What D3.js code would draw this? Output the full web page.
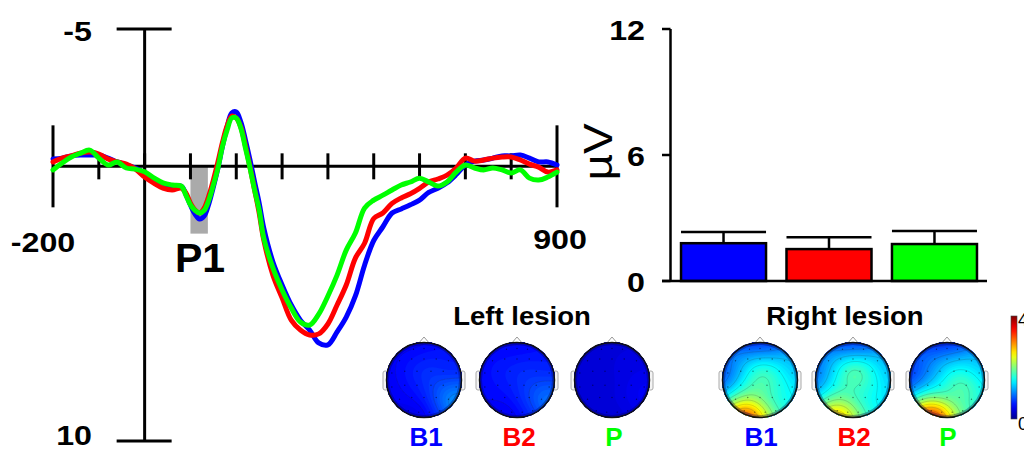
<!DOCTYPE html>
<html>
<head>
<meta charset="utf-8">
<script src="https://cdn.jsdelivr.net/npm/d3@7"></script>
<style>
  body { margin: 0; background: #fff; }
  svg { display: block; }
  text { font-family: "Liberation Sans", Arial, Helvetica, sans-serif; }
</style>
</head>
<body>
<svg id="fig" width="1024" height="452"></svg>
<script>
// ---- ERP waveforms (µV, negative plotted upward) ----
const times = [-200,-180,-160,-140,-120,-100,-80,-60,-40,-20,0,20,40,60,80,
  90,100,110,120,130,140,150,160,170,180,190,200,210,220,230,240,250,260,
  280,300,320,340,360,380,400,420,440,460,480,500,520,540,560,580,600,620,640,660,
  680,700,720,740,760,780,800,820,840,860,880,900];

const waveB1 = [-0.27,-0.30,-0.38,-0.41,-0.41,-0.41,-0.30,-0.16,-0.05,0.06,0.24,0.50,0.64,0.72,0.72,
  1.01,1.41,1.74,1.92,1.81,1.37,0.75,0.06,-0.74,-1.43,-1.94,-1.98,-1.61,-0.96,-0.23,0.57,1.34,2.25,
  3.48,4.32,5.05,5.60,5.96,6.43,6.50,6.03,5.49,4.72,3.60,2.70,2.20,1.70,1.55,1.40,1.23,0.95,0.80,0.60,
  0.30,-0.05,-0.19,-0.23,-0.30,-0.38,-0.38,-0.41,-0.30,-0.16,-0.16,-0.05];

const waveB2 = [-0.16,-0.30,-0.38,-0.48,-0.52,-0.45,-0.27,-0.16,-0.08,0.10,0.39,0.61,0.79,0.86,0.79,
  0.97,1.34,1.59,1.70,1.52,1.08,0.50,-0.16,-0.88,-1.47,-1.83,-1.76,-1.43,-0.74,0.03,0.86,1.70,2.68,
  3.96,4.79,5.60,5.96,6.14,6.10,5.74,5.05,4.32,3.34,2.80,1.90,1.70,1.35,1.15,1.00,0.80,0.57,0.46,0.32,
  0.06,-0.30,-0.19,-0.23,-0.30,-0.34,-0.34,-0.23,-0.08,0.03,0.21,0.13];

const waveP = [0.13,-0.12,-0.34,-0.48,-0.59,-0.30,-0.05,-0.16,0.06,0.10,0.20,0.42,0.60,0.68,0.72,
  1.05,1.40,1.60,1.70,1.60,1.23,0.68,0.06,-0.74,-1.32,-1.76,-1.76,-1.39,-0.67,0.06,0.86,1.59,2.61,
  3.70,4.50,5.16,5.67,5.78,5.38,4.72,3.96,3.05,2.43,1.52,1.23,1.05,0.86,0.68,0.57,0.43,0.57,0.72,0.57,
  0.21,-0.05,0.06,0.13,0.06,0.13,0.24,0.13,0.43,0.50,0.39,0.21];

const conditions = ["B1", "B2", "P"];
const condColors = ["#0000ff", "#ff0000", "#00ff00"];

// ERP axis labels and P1 window
const erpYLabels = [-5, 10];
const erpXLabels = [-200, 900];
const erpXTicks = [-100, 0, 100, 200, 300, 400, 500, 600, 700, 800];
const p1Window = [100, 138];
const p1Depth = 2.45;

// ---- P1 amplitude bars ----
const barMeans = [1.80, 1.52, 1.76];
const barErrors = [0.53, 0.56, 0.62];
const barTicks = [0, 6, 12];

// ---- Scalp maps: electrode layout (unit head) and amplitudes (µV) ----
const electrodes = [
  [-0.3,-0.88],[0,-0.9],[0.3,-0.88],
  [-0.7,-0.55],[-0.35,-0.6],[0,-0.6],[0.35,-0.6],[0.7,-0.55],
  [-0.92,-0.2],[-0.55,-0.25],[-0.2,-0.25],[0.2,-0.25],[0.55,-0.25],[0.92,-0.2],
  [-0.92,0.2],[-0.55,0.15],[-0.2,0.15],[0.2,0.15],[0.55,0.15],[0.92,0.2],
  [-0.7,0.55],[-0.35,0.5],[0,0.5],[0.35,0.5],[0.7,0.55],
  [-0.45,0.88],[-0.15,0.92],[0.15,0.92],[0.45,0.88]
];
const topoLeftB1 = [0.4,0.45,0.45, 0.45,0.55,0.65,0.65,0.55, 0.45,0.55,0.7,0.7,0.6,0.6,
  0.45,0.5,0.6,0.75,0.85,0.95, 0.45,0.5,0.55,0.85,1.35, 0.35,0.35,0.45,0.8];
const topoLeftB2 = [0.45,0.45,0.45, 0.5,0.55,0.6,0.6,0.55, 0.5,0.6,0.65,0.7,0.65,0.6,
  0.5,0.55,0.6,0.7,0.8,0.85, 0.5,0.5,0.6,0.8,1.15, 0.4,0.4,0.5,0.7];
const topoLeftP = [0.3,0.35,0.3, 0.3,0.3,0.35,0.4,0.35, 0.3,0.3,0.35,0.35,0.4,0.4,
  0.3,0.3,0.3,0.35,0.45,0.5, 0.3,0.3,0.35,0.4,0.5, 0.3,0.3,0.3,0.35];
const topoRightB1 = [0.4,0.45,0.4, 0.9,1.3,1.6,1.4,1.1, 0.7,1.1,1.8,1.9,1.5,1.2,
  0.8,1.3,1.9,1.9,1.6,1.4, 2.0,2.1,1.8,1.6,1.5, 3.9,3.4,2.4,1.6];
const topoRightB2 = [0.4,0.45,0.4, 0.9,1.4,1.8,1.5,1.1, 0.8,1.3,2.0,2.1,1.5,1.2,
  0.9,1.4,1.8,1.8,1.6,1.3, 1.9,1.9,1.6,1.5,1.4, 3.3,2.8,2.0,1.5];
const topoRightP = [0.4,0.45,0.4, 0.8,1.1,1.4,1.4,1.1, 0.6,0.9,1.3,1.6,1.6,1.2,
  0.7,1.1,1.5,1.9,2.0,1.4, 2.2,1.9,1.6,1.9,1.6, 4.2,3.6,2.3,1.6];
const colorbarRange = [0, 4];

// ---------------------------------------------------------------
const svg = d3.select("#fig");
const FONT_STRETCH = 1.15;

function label(g, x, y, str, opt) {
  const o = Object.assign({ size: 28, weight: "bold", anchor: "middle", sx: 1, fill: "#000" }, opt);
  return g.append("text")
    .attr("transform", `translate(${x},${y}) scale(${o.sx},1)`)
    .attr("text-anchor", o.anchor)
    .attr("font-size", o.size)
    .attr("font-weight", o.weight)
    .attr("fill", o.fill)
    .text(str);
}

// ===== ERP panel =====
const x = d3.scaleLinear().domain([-200, 900]).range([53, 557]);
const y = d3.scaleLinear().domain([-5, 10]).range([29, 441]);
const erp = svg.append("g");

erp.append("rect")
  .attr("x", x(p1Window[0])).attr("y", y(0))
  .attr("width", x(p1Window[1]) - x(p1Window[0]))
  .attr("height", y(p1Depth) - y(0))
  .attr("fill", "#aaaaaa");

const axisStyle = s => s.attr("stroke", "#000").attr("stroke-width", 3).attr("fill", "none");

// time axis at 0 µV
erp.append("line").call(axisStyle)
  .attr("x1", x(-200)).attr("x2", x(900)).attr("y1", y(0)).attr("y2", y(0));
erp.selectAll(".xt").data(erpXTicks).join("line").call(axisStyle)
  .attr("x1", d => x(d)).attr("x2", d => x(d))
  .attr("y1", y(0) - 13).attr("y2", y(0) + 13);
erp.selectAll(".xe").data(erpXLabels).join("line").call(axisStyle)
  .attr("x1", d => x(d)).attr("x2", d => x(d))
  .attr("y1", y(0) - 41).attr("y2", y(0) + 41);

// amplitude axis at 0 ms
erp.append("line").call(axisStyle)
  .attr("x1", x(0)).attr("x2", x(0)).attr("y1", y(-5)).attr("y2", y(10));
erp.selectAll(".yc").data(erpYLabels).join("line").call(axisStyle)
  .attr("x1", x(0) - 28).attr("x2", x(0) + 27)
  .attr("y1", d => y(d)).attr("y2", d => y(d));

erpYLabels.forEach(v => label(erp, 92, v < 0 ? y(v) + 12 : 445, String(v), { anchor: "end", sx: FONT_STRETCH }));
label(erp, 43, 252, String(erpXLabels[0]), { sx: FONT_STRETCH });
label(erp, 560, 249, String(erpXLabels[1]), { sx: FONT_STRETCH });
label(erp, 175, 272, "P1", { size: 41, anchor: "start" });

const waves = [waveB1, waveB2, waveP];
const line = d3.line()
  .x((d, i) => x(times[i]))
  .y(d => y(d))
  .curve(d3.curveCatmullRom.alpha(0.5));
waves.forEach((w, k) => {
  erp.append("path").datum(w)
    .attr("d", line)
    .attr("fill", "none")
    .attr("stroke", condColors[k])
    .attr("stroke-width", 5)
    .attr("stroke-linejoin", "round")
    .attr("stroke-linecap", "round");
});

// ===== Bar panel =====
const bx = d3.scaleBand().domain(conditions).range([671, 987]).paddingInner(0.194).paddingOuter(0.095);
const by = d3.scaleLinear().domain([0, 12]).range([281, 29]);
const bars = svg.append("g");
const barLine = s => s.attr("stroke", "#000").attr("stroke-width", 2.5);

bars.selectAll(".bar").data(conditions).join("rect")
  .attr("x", d => bx(d)).attr("width", bx.bandwidth())
  .attr("y", (d, i) => by(barMeans[i]))
  .attr("height", (d, i) => by(0) - by(barMeans[i]))
  .attr("fill", (d, i) => condColors[i])
  .call(barLine);

bars.selectAll(".err").data(conditions).join("line").call(barLine)
  .attr("x1", d => bx(d) + bx.bandwidth() / 2).attr("x2", d => bx(d) + bx.bandwidth() / 2)
  .attr("y1", (d, i) => by(barMeans[i])).attr("y2", (d, i) => by(barMeans[i] + barErrors[i]));
bars.selectAll(".cap").data(conditions).join("line").call(barLine)
  .attr("x1", d => bx(d)).attr("x2", d => bx(d) + bx.bandwidth())
  .attr("y1", (d, i) => by(barMeans[i] + barErrors[i])).attr("y2", (d, i) => by(barMeans[i] + barErrors[i]));

bars.append("line").call(barLine)
  .attr("x1", 670.5).attr("x2", 670.5).attr("y1", by(12)).attr("y2", by(0));
bars.append("line").call(barLine)
  .attr("x1", 662).attr("x2", 987).attr("y1", by(0)).attr("y2", by(0));
bars.selectAll(".bt").data(barTicks).join("line").call(barLine)
  .attr("x1", 662).attr("x2", 670.5).attr("y1", d => by(d)).attr("y2", d => by(d));
barTicks.forEach(v => label(bars, 645, by(v) + 11, String(v), { anchor: "end", sx: FONT_STRETCH }));

bars.append("text")
  .attr("transform", "translate(612,152) rotate(-90) scale(1.15,1)")
  .attr("text-anchor", "middle")
  .attr("font-size", 40)
  .text("µV");

// ===== Scalp maps =====
const jet = d3.scaleLinear()
  .domain([0, 0.5, 1.5, 2.5, 3.5, 4])
  .range(["#00008f", "#0000ff", "#00ffff", "#ffff00", "#ff0000", "#800000"])
  .clamp(true);

// smooth kernel interpolation of electrode values onto an N×N grid
const N = 64;
const SIGMA = 0.28;
function gridValues(vals) {
  const out = new Array(N * N);
  for (let j = 0; j < N; j++) {
    for (let i = 0; i < N; i++) {
      const u = (i + 0.5) / N * 2 - 1, v = (j + 0.5) / N * 2 - 1;
      let sw = 0, s = 0;
      for (let k = 0; k < electrodes.length; k++) {
        const dx = u - electrodes[k][0], dy = v - electrodes[k][1];
        const w = Math.exp(-(dx * dx + dy * dy) / (2 * SIGMA * SIGMA));
        sw += w; s += w * vals[k];
      }
      out[j * N + i] = s / sw;
    }
  }
  return out;
}

let clipId = 0;
function drawTopo(cx, cy, R, vals) {
  const g = svg.append("g");
  const id = "head" + (clipId++);
  g.append("clipPath").attr("id", id)
    .append("circle").attr("cx", cx).attr("cy", cy).attr("r", R);

  // nose and ears
  g.append("path")
    .attr("d", `M${cx - 6},${cy - R + 2}L${cx},${cy - R - 5}L${cx + 6},${cy - R + 2}`)
    .attr("fill", "#fff").attr("stroke", "#999").attr("stroke-width", 1);
  [-1, 1].forEach(s => {
    g.append("rect")
      .attr("x", s < 0 ? cx - R - 3 : cx + R - 2).attr("y", cy - 9)
      .attr("width", 5).attr("height", 19).attr("rx", 2)
      .attr("fill", "#f4f4f4").attr("stroke", "#aaa").attr("stroke-width", 1);
  });

  const grid = gridValues(vals);
  const proj = d3.geoTransform({
    point(px, py) { this.stream.point(cx + (px / N * 2 - 1) * R, cy + (py / N * 2 - 1) * R); }
  });
  const path = d3.geoPath(proj);
  const inner = g.append("g").attr("clip-path", `url(#${id})`);
  inner.append("circle").attr("cx", cx).attr("cy", cy).attr("r", R).attr("fill", jet(0));

  const fillLevels = d3.range(0, 4.0001, 0.05);
  inner.selectAll(".band")
    .data(d3.contours().size([N, N]).thresholds(fillLevels)(grid))
    .join("path")
    .attr("d", path)
    .attr("fill", d => jet(d.value + 0.025));

  inner.selectAll(".iso")
    .data(d3.contours().size([N, N]).thresholds(d3.range(0.25, 4, 0.25))(grid))
    .join("path")
    .attr("d", path)
    .attr("fill", "none")
    .attr("stroke", "#333")
    .attr("stroke-opacity", 0.3)
    .attr("stroke-width", 0.6);

  inner.selectAll(".el").data(electrodes).join("circle")
    .attr("cx", d => cx + d[0] * R * 0.92).attr("cy", d => cy + d[1] * R * 0.92)
    .attr("r", 0.7).attr("fill", "#000").attr("fill-opacity", 0.5);

  // darker rim toward the edge of the scalp
  inner.append("circle").attr("cx", cx).attr("cy", cy).attr("r", R - 1.5)
    .attr("fill", "none").attr("stroke", "#000050").attr("stroke-opacity", 0.35).attr("stroke-width", 3);
  g.append("circle").attr("cx", cx).attr("cy", cy).attr("r", R - 0.5)
    .attr("fill", "none").attr("stroke", "#111").attr("stroke-width", 1.5);
}

const leftMaps = [topoLeftB1, topoLeftB2, topoLeftP];
const rightMaps = [topoRightB1, topoRightB2, topoRightP];
const leftCx = [424, 517, 612];
const rightCx = [760, 853, 947];
leftMaps.forEach((m, i) => drawTopo(leftCx[i], 380, 38, m));
rightMaps.forEach((m, i) => drawTopo(rightCx[i], 380, 38, m));

const maps = svg.append("g");
label(maps, 522, 325, "Left lesion", { size: 25, sx: 1.1 });
label(maps, 845, 325, "Right lesion", { size: 25, sx: 1.1 });
conditions.forEach((c, i) => {
  label(maps, leftCx[i] + 2, 446, c, { size: 26, fill: condColors[i] });
  label(maps, rightCx[i] + 1, 446, c, { size: 26, fill: condColors[i] });
});

// colour bar
const grad = svg.append("defs").append("linearGradient")
  .attr("id", "jetbar").attr("x1", 0).attr("y1", 1).attr("x2", 0).attr("y2", 0);
d3.range(0, 1.0001, 0.05).forEach(t => {
  grad.append("stop").attr("offset", t).attr("stop-color", jet(colorbarRange[0] + t * (colorbarRange[1] - colorbarRange[0])));
});
svg.append("rect").attr("x", 1011).attr("y", 316).attr("width", 6).attr("height", 103)
  .attr("fill", "url(#jetbar)").attr("stroke", "#444").attr("stroke-width", 0.6);
label(svg, 1018, 326, String(colorbarRange[1]), { size: 18, weight: "normal", anchor: "start" });
label(svg, 1018, 430, String(colorbarRange[0]), { size: 18, weight: "normal", anchor: "start" });
</script>
</body>
</html>
